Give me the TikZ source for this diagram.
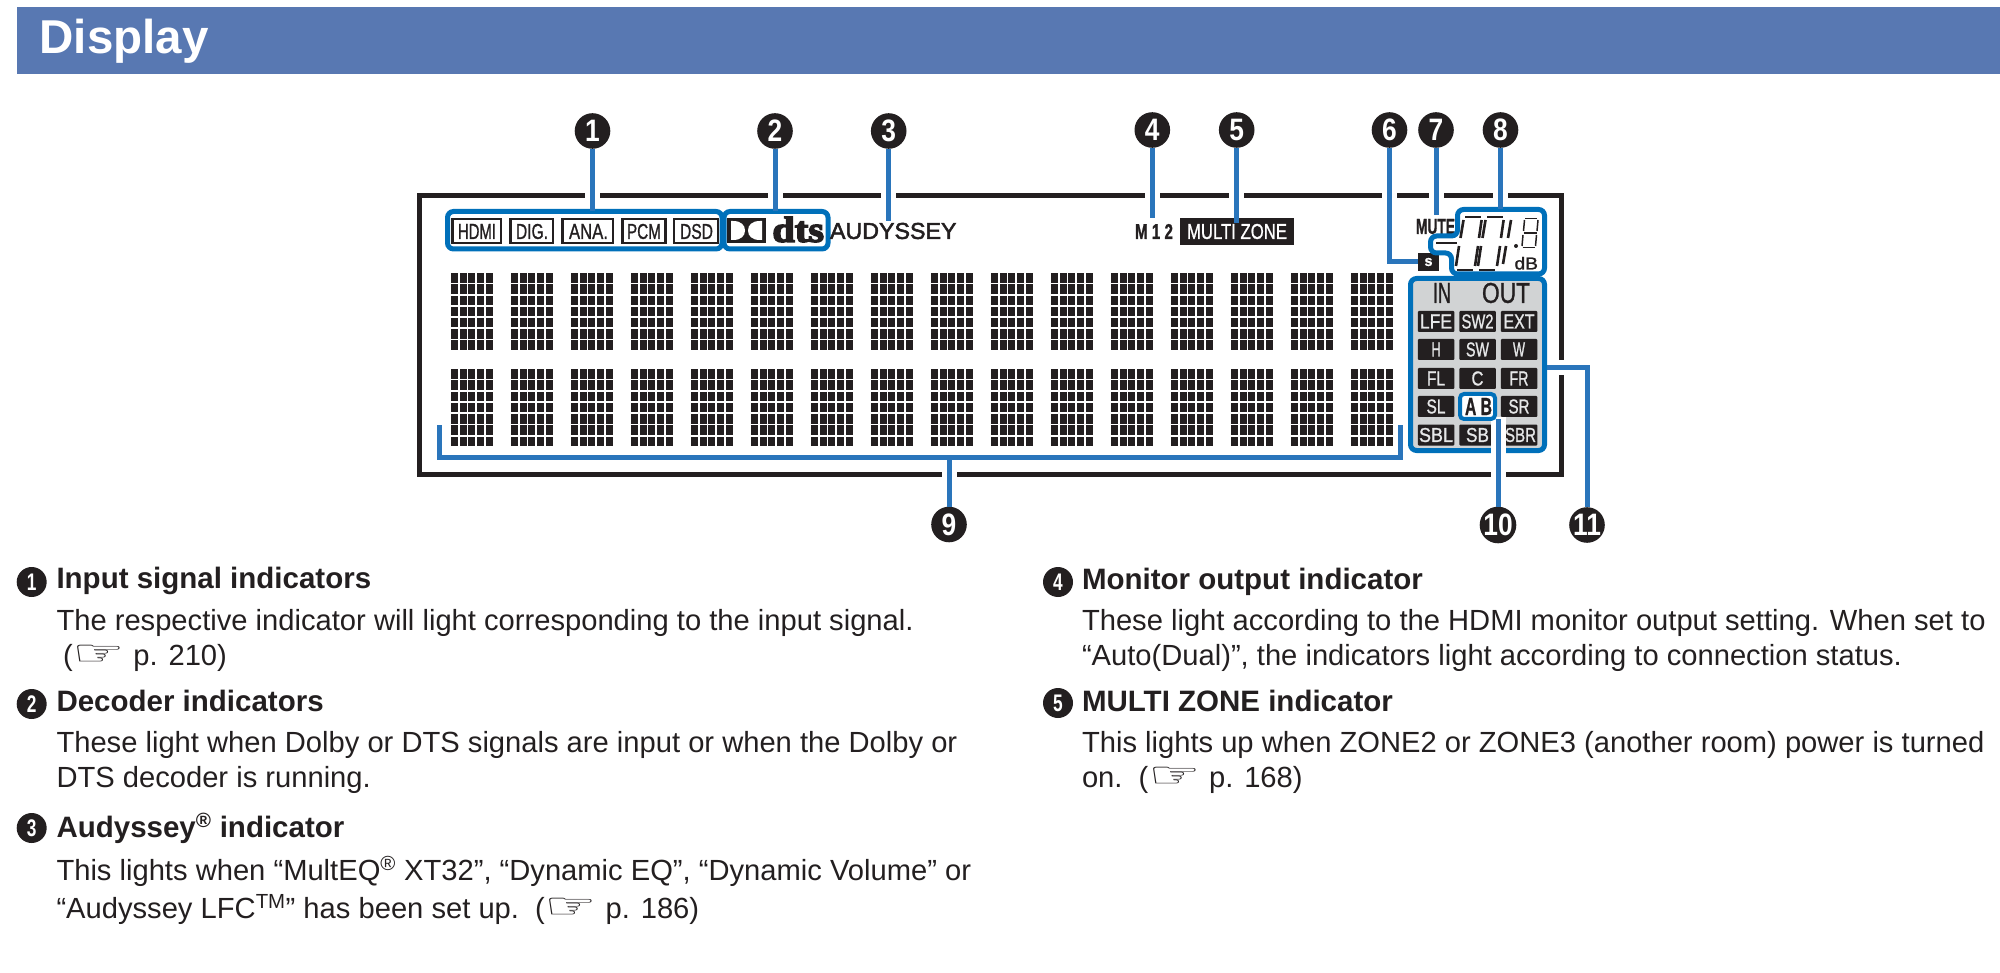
\documentclass[tikz,border=0pt]{standalone}
\usepackage{fontspec}
\usepackage{graphicx}
\setmainfont{Liberation Sans}
\newfontfamily\dejavu{DejaVu Sans}
\newfontfamily\dtsf[FakeBold=4]{Liberation Serif Bold}
\newfontfamily\lcdf[FakeBold=1.2]{Liberation Sans}
\newfontfamily\audf[FakeBold=2.2]{Liberation Sans}
\definecolor{ink}{HTML}{231F20}
\definecolor{headblue}{HTML}{5878B2}
\definecolor{leader}{HTML}{2A75BB}
\definecolor{boxblue}{HTML}{0070BA}
\definecolor{lcdgray}{HTML}{D1D3D4}
\definecolor{celltext}{HTML}{E6E7E8}
\tikzset{
  numcirc/.style={circle,fill=ink,text=white,minimum size=35.6pt,inner sep=0pt,outer sep=0pt},
  listcirc/.style={circle,fill=ink,text=white,minimum size=30pt,inner sep=0pt,outer sep=0pt},
  leadline/.style={draw=leader,line width=5pt},
  haloline/.style={draw=white,line width=15pt},
  bluebox/.style={draw=boxblue,line width=5pt,rounded corners=6pt,outer sep=0pt,inner sep=0pt},
  fitlabel/.style={inner sep=0pt,outer sep=0pt,text=ink,font=\lcdf\fontsize{20}{20}\selectfont},
  srcbox/.style={draw=ink,line width=2.4pt,outer sep=0pt},
  lcdcell/.style={fill=ink,rounded corners=1pt,minimum width=36.5pt,minimum height=21pt,inner sep=0pt,outer sep=0pt},
  seg/.style={draw=ink,line width=2.6pt},
  thinseg/.style={draw=ink,line width=1.5pt},
  headtext/.style={anchor=base west,inner sep=0pt,outer sep=0pt,text=ink,font=\fontsize{29.5}{32}\selectfont\bfseries},
  bodytext/.style={anchor=base west,inner sep=0pt,outer sep=0pt,text=ink,font=\fontsize{29.15}{32}\selectfont},
}
\newcommand\fitnode[7]{%
  \pgfmathsetmacro\fw{(#4)-(#2)}\pgfmathsetmacro\fh{(#5)-(#3)}%
  \node[fitlabel,#6] (#1) at ({((#2)+(#4))/2},{((#3)+(#5))/2}) {\resizebox{\fw pt}{\fh pt}{#7}};}
\newcommand\bignum[1]{\scalebox{.85}[1]{\fontsize{31}{31}\selectfont\bfseries #1}}
\newcommand\smallnum[1]{\scalebox{.72}[1]{\fontsize{24}{24}\selectfont\bfseries #1}}
\newcommand\handicon{\scalebox{1.12}[.68]{\resizebox{47pt}{!}{\dejavu ☞}}}
\begin{document}
\begin{tikzpicture}[x=1pt,y=-1pt]
\useasboundingbox (0,0) rectangle (2000,973);
% header
\fill[headblue] (16.7,6.7) rectangle (2000,74);
\node[anchor=base west,inner sep=0pt,text=white,font=\fontsize{47.5}{50}\selectfont\bfseries] (title) at (39.5,54) {Display};
% frame
\node[draw=ink,line width=5pt,minimum width=1141.5pt,minimum height=278pt,inner sep=0pt,outer sep=0pt] (frame) at (990.25,335) {};
% number circles
\node[numcirc] (c1) at (592.5,131) {\bignum{1}};
\node[numcirc] (c2) at (775,131) {\bignum{2}};
\node[numcirc] (c3) at (888.7,131) {\bignum{3}};
\node[numcirc] (c4) at (1152.3,130) {\bignum{4}};
\node[numcirc] (c5) at (1236.7,130) {\bignum{5}};
\node[numcirc] (c6) at (1389.5,130) {\bignum{6}};
\node[numcirc] (c7) at (1436,130) {\bignum{7}};
\node[numcirc] (c8) at (1500.5,130) {\bignum{8}};
\node[numcirc] (c9) at (949,524.5) {\bignum{9}};
\node[numcirc] (c10) at (1498,525) {\bignum{10}};
\node[numcirc] (c11) at (1587,525) {\bignum{11}};
% white gaps in the frame
\foreach \n in {1,...,8}{\draw[haloline] ([yshift=6pt]c\n.south |- frame.north) -- ([yshift=-6pt]c\n.south |- frame.north);}
\draw[haloline] ([yshift=6pt]c9.north |- frame.south) -- ([yshift=-6pt]c9.north |- frame.south);
% source boxes
\node[bluebox,minimum width=274.5pt,minimum height=37.5pt] (b1) at (584.75,230.25) {};
\node[bluebox,minimum width=104pt,minimum height=37.5pt] (b2) at (776,230.25) {};
\foreach \n/\xa/\xb/\ta/\tb/\t in {hdmi/451.3/502/458/496/HDMI,dig/509.5/554/516/548/DIG.,ana/561.5/614/569/608/ANA.,pcm/621.6/666.4/627/661/PCM,dsd/673/719/680/713/DSD}{
  \draw[srcbox] (\xa+1,219) rectangle (\xb-1,243);
  \fitnode{t\n}{\ta}{224}{\tb}{239}{}{\t}
}
% Dolby mark and dts
\fill[ink] (727,218) rectangle (766,243);
\fill[white] (731,221) -- (733,221) .. controls (741,221) and (745,225) .. (745,230.5) .. controls (745,236) and (741,240) .. (733,240) -- (731,240) -- cycle;
\fill[white] (762,221) -- (760,221) .. controls (752,221) and (748,225) .. (748,230.5) .. controls (748,236) and (752,240) .. (760,240) -- (762,240) -- cycle;
\fitnode{dts}{772.4}{217}{824}{242}{}{\dtsf dts}
\fitnode{aud}{830}{223}{956.5}{239}{}{\audf AUDYSSEY}
% M 1 2 and MULTI ZONE
\fitnode{m12}{1135}{224}{1173}{239}{}{\bfseries M 1 2}
\node[fill=ink,minimum width=114pt,minimum height=27pt,inner sep=0pt,outer sep=0pt] (mz) at (1237,231.5) {};
\fitnode{mzt}{1187}{224}{1287}{239}{text=white}{MULTI ZONE}
% S, MUTE
\node[fill=ink,minimum width=21pt,minimum height=18pt,inner sep=0pt,outer sep=0pt] (sbox) at (1428.5,262) {};
\fitnode{st}{1424.5}{258}{1432.5}{266}{text=white}{\bfseries s}
\fitnode{mute}{1416}{219}{1455}{234}{}{\bfseries MUTE}
% level display
\coordinate (b8top) at (1500.5,209.5);
\draw[draw=boxblue,line width=5pt,rounded corners=6pt,fill=white]
  (1457.5,209.5) -- (1544.5,209.5) -- (1544.5,274) -- (1451.5,274) -- (1451.5,253) -- (1430.5,253) -- (1430.5,236) -- (1457.5,236) -- cycle;
\draw[seg] (1436,243) -- (1457,243);
\foreach \dx in {0,22}{
  \begin{scope}[shift={(\dx,0)}]
  \draw[seg] (1465,217) -- (1481,217);
  \draw[seg] (1463.5,220) -- (1460.5,238);
  \draw[seg] (1481.6,220) -- (1479,238);
  \draw[seg] (1459,246) -- (1456,266);
  \draw[seg] (1478,246) -- (1475,266);
  \draw[seg] (1457,270) -- (1473,270);
  \end{scope}}
\draw[seg] (1511,220) -- (1508,238);
\draw[seg] (1506,246) -- (1503,264);
\fill[ink] (1516,246) circle (2pt);
\draw[thinseg] (1525,218.5) -- (1537,218.5);
\draw[thinseg] (1524.5,220) -- (1523.5,231);
\draw[thinseg] (1538,220) -- (1537,231);
\draw[thinseg] (1523.5,233) -- (1536.5,233);
\draw[thinseg] (1523,235) -- (1522,246);
\draw[thinseg] (1536.5,235) -- (1535.5,246);
\draw[thinseg] (1522.5,247.5) -- (1534.5,247.5);
\fitnode{db}{1514.5}{257}{1538}{269.5}{}{dB}
% dot matrix
\foreach \r in {273.3,369.3}\foreach \c in {0,...,15}\foreach \i in {0,...,4}\foreach \j in {0,...,6}{
  \fill[ink] ({451.3+60*\c+8.58*\i},{\r+11.2*\j}) rectangle ++(7,9.4);}
% channel panel
\node[bluebox,fill=lcdgray,minimum width=134pt,minimum height=172pt] (b11) at (1477.5,364.5) {};
\fitnode{tin}{1433}{283}{1451}{303}{}{IN}
\fitnode{tout}{1482}{283}{1530}{303}{}{OUT}
\foreach \n/\cx/\cy in {lfe/1436/321.5,swb/1477.5/321.5,ext/1519/321.5,h/1436/349.5,sw/1477.5/349.5,w/1519/349.5,fl/1436/378.5,c/1477.5/378.5,fr/1519/378.5,sl/1436/406.5,sr/1519/406.5,sbl/1436/435,sb/1477.5/435,sbr/1519/435}{
  \node[lcdcell] (cell\n) at (\cx,\cy) {};}
% connector 10 with its white halo
\draw[haloline] (1498,417) -- (1498,482);
\node[draw=boxblue,line width=4pt,fill=white,rounded corners=4pt,minimum width=35pt,minimum height=25pt,inner sep=0pt,outer sep=0pt] (b10) at (1477.5,406.5) {};
\fitnode{tab}{1465}{398}{1492}{415}{}{\bfseries A B}
\foreach \n/\cx/\cy/\w/\t in {lfe/1436/321.5/32/LFE,swb/1477.5/321.5/32/SW2,ext/1519/321.5/31/EXT,h/1436/349.5/9/H,sw/1477.5/349.5/23/SW,w/1519/349.5/12/W,fl/1436/378.5/18/FL,c/1477.5/378.5/12/C,fr/1519/378.5/19/FR,sl/1436/406.5/19/SL,sr/1519/406.5/21/SR,sbl/1436/435/34/SBL,sb/1477.5/435/23/SB,sbr/1520.5/435/31/SBR}{
  \fitnode{lab\n}{\cx-\w/2}{\cy-7}{\cx+\w/2}{\cy+7}{text=celltext}{\t}
}
% connectors
\draw[leadline] (c1.south) -- (c1.south |- b1.north);
\draw[leadline] (c2.south) -- (c2.south |- b2.north);
\draw[leadline] (c3.south) -- ([yshift=2pt]c3.south |- aud.north);
\draw[leadline] (c4.south) -- ([yshift=6pt]c4.south |- m12.north);
\draw[leadline] (c5.south) -- ([yshift=-5pt]c5.south |- mz.north);
\draw[leadline] (c6.south) |- (sbox.west);
\draw[leadline] (c7.south) -- ([yshift=4pt]c7.south |- mute.north);
\draw[leadline] (c8.south) -- (b8top);
\coordinate (brl) at (439,425);
\coordinate (brr) at (1400.7,425);
\coordinate (brb) at (949,457.5);
\draw[leadline] (brl) |- (brb) -| (brr);
\draw[leadline] (c9.north) -- (brb);
\draw[leadline] (c10.north) -- (c10.north |- b10.south);
\coordinate (t11) at (1547,368);
\draw[haloline] (1553,368) -- (1569,368);
\draw[leadline] (c11.north) |- (t11);
% descriptions
\node[listcirc] (l1) at (31.7,582) {\smallnum{1}};
\node[listcirc] (l2) at (31.7,704) {\smallnum{2}};
\node[listcirc] (l3) at (31.7,828) {\smallnum{3}};
\node[listcirc] (l4) at (1058,582) {\smallnum{4}};
\node[listcirc] (l5) at (1058,703) {\smallnum{5}};
\node[headtext] (h1) at (56.5,588) {Input signal indicators};
\node[bodytext] (p1a) at (56.5,630) {The respective indicator will light corresponding to the input signal.};
\node[bodytext] (p1b) at (63,665) {(\handicon{} p. 210)};
\node[headtext] (h2) at (56.5,711) {Decoder indicators};
\node[bodytext] (p2a) at (56.5,752) {These light when Dolby or DTS signals are input or when the Dolby or};
\node[bodytext] (p2b) at (56.5,787) {DTS decoder is running.};
\node[headtext] (h3) at (56.5,837) {Audyssey\textsuperscript{®} indicator};
\node[bodytext] (p3a) at (56.5,880) {This lights when “MultEQ\textsuperscript{®} XT32”, “Dynamic EQ”, “Dynamic Volume” or};
\node[bodytext] (p3b) at (56.5,918) {“Audyssey LFC\textsuperscript{TM}” has been set up.\ \ (\handicon{} p. 186)};
\node[headtext] (h4) at (1082,589) {Monitor output indicator};
\node[bodytext] (p4a) at (1082,630) {These light according to the HDMI monitor output setting. When set to};
\node[bodytext] (p4b) at (1082,665) {“Auto(Dual)”, the indicators light according to connection status.};
\node[headtext] (h5) at (1082,711) {MULTI ZONE indicator};
\node[bodytext] (p5a) at (1082,752) {This lights up when ZONE2 or ZONE3 (another room) power is turned};
\node[bodytext] (p5b) at (1082,787) {on.\ \ (\handicon{} p. 168)};
\end{tikzpicture}
\end{document}
